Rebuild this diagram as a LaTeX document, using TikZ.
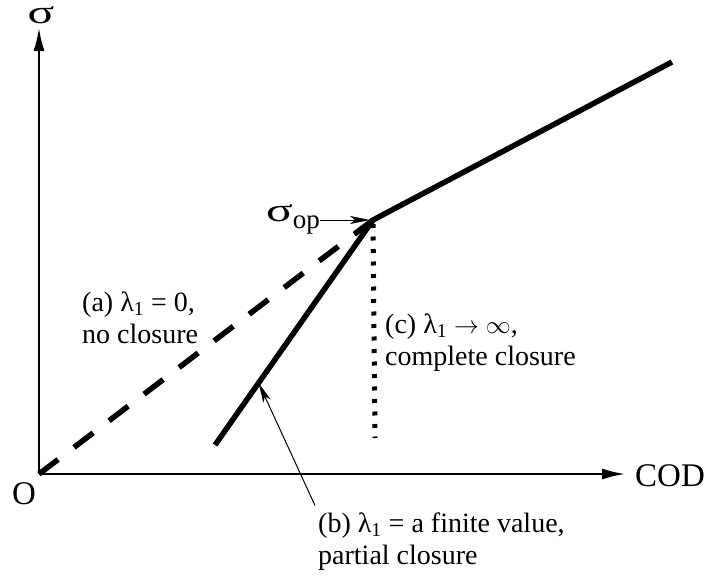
\documentclass[tikz,border=0pt]{standalone}
\usepackage{fontspec}
\setmainfont{Liberation Serif}
\usetikzlibrary{arrows.meta, positioning}

\newcommand{\lamone}{λ\textsubscript{1}}
\newcommand{\widesigma}{\scalebox{1.5}[1.0]{σ}}

\tikzset{
  axisline/.style={line width=2pt, -{Latex[length=23pt,width=11pt]}},
  curve/.style={line width=5.5pt},
  pointer/.style={line width=1pt, -{Stealth[length=20pt,width=8pt,inset=5pt]}},
  biglabel/.style={font=\fontsize{33}{36}\selectfont},
  caselabel/.style={align=left, anchor=north west, font=\fontsize{28}{32}\selectfont}
}

\begin{document}
\begin{tikzpicture}[x=1pt, y=-1pt, every node/.style={inner sep=0pt}]
  \useasboundingbox (0,0) rectangle (709,581);

  % axes
  \coordinate (origin) at (39,474);
  \coordinate (ytip) at (39,28);
  \coordinate (xtip) at (625,474);
  \node (sigma) [biglabel] at (41,15) {\widesigma};
  \node (cod) [biglabel, anchor=west] at (635,476) {COD};
  \node (o) [biglabel] at (24,494) {O};
  \draw[axisline] (origin) -- (ytip);
  \draw[axisline] (origin) -- (xtip);

  % response lines
  \coordinate (junction) at (373,220);
  \coordinate (topend) at (672,62);
  \coordinate (bstart) at (215,445);
  \coordinate (dotend) at (375,438);
  \draw[curve, dash pattern=on 24pt off 20pt] (origin) -- (junction);
  \draw[curve] (bstart) -- (junction) -- (topend);
  \draw[line width=5pt, dash pattern=on 4pt off 8.5pt] (junction |- 0,224) -- (dotend);
  \path (bstart) -- (junction) coordinate[pos=0.276] (bhit);

  % labels
  \node (sigmaop) [biglabel, anchor=east] at (320,219)
    {\widesigma\raisebox{-7pt}{\fontsize{27}{27}\selectfont op}};
  \draw[pointer, shorten >=3pt] (sigmaop.east |- junction) -- (junction);

  \node (casea) [caselabel] at (82,291.5) {(a) \lamone{} = 0,\\no closure};
  \node (caseb) [caselabel] at (318,512.5) {(b) \lamone{} = a finite value,\\partial closure};
  \node (casec) [caselabel] at (385,313.5) {(c) \lamone{} $\rightarrow\infty$,\\complete closure};
  \draw[pointer] ([shift={(-3,-7)}]caseb.north west) -- (bhit);
\end{tikzpicture}
\end{document}
